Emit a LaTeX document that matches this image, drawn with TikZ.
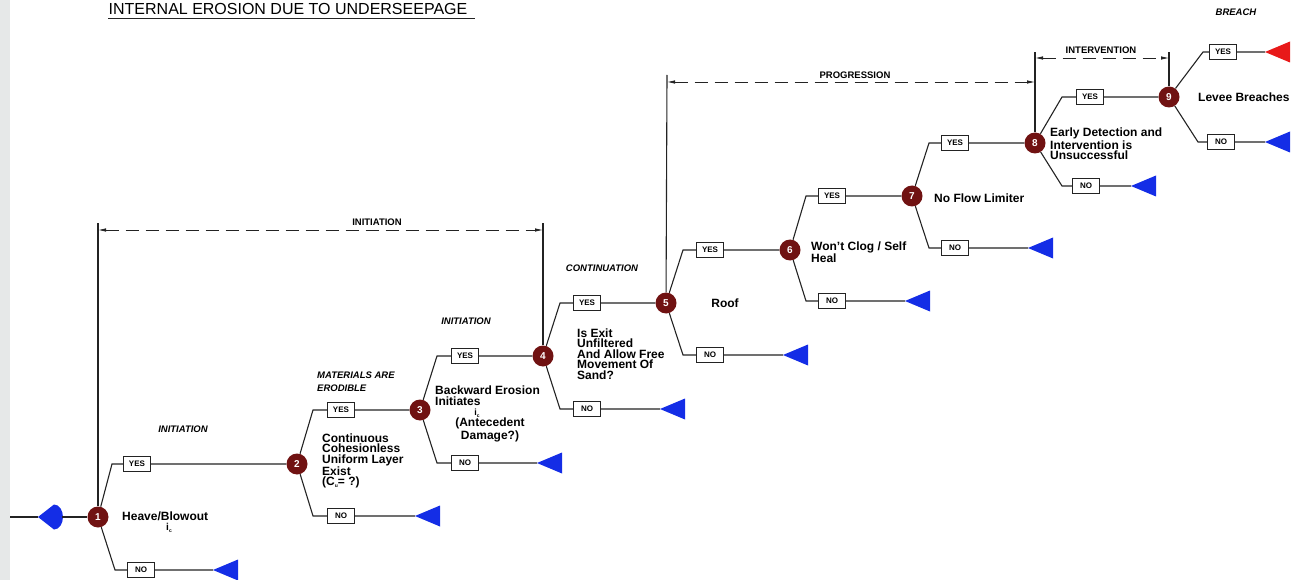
\documentclass[tikz,border=0pt]{standalone}
\usepackage{fontspec}
\setmainfont{Liberation Sans}
\usetikzlibrary{arrows.meta}
\definecolor{nodered}{RGB}{112,18,18}
\definecolor{tblue}{RGB}{20,45,230}
\definecolor{tred}{RGB}{232,25,25}
\definecolor{edgegray}{RGB}{230,232,232}
\definecolor{ink}{RGB}{35,35,35}
\begin{document}
\begin{tikzpicture}[x=1pt,y=-1pt,
 ln/.style={line width=1.1pt, draw=ink},
 dn/.style={circle, fill=nodered, text=white, font=\bfseries\fontsize{10}{10}\selectfont, inner sep=0pt, minimum size=21pt},
 ynbox/.style={draw=ink, line width=1pt, fill=white, font=\bfseries\fontsize{8}{8}\selectfont, minimum width=27pt, minimum height=15.5pt, inner sep=0pt},
 qtext/.style={anchor=west, align=left, font=\bfseries\fontsize{12}{10.5}\selectfont, inner sep=0pt},
 phase/.style={font=\bfseries\itshape\fontsize{9.5}{13}\selectfont, inner sep=0pt, align=center},
 dimlab/.style={font=\bfseries\fontsize{9.5}{10}\selectfont, inner sep=0pt},
 dimline/.style={line width=0.8pt, draw=ink, dash pattern=on 13pt off 7pt, {Latex[length=8pt,width=3.5pt]}-{Latex[length=8pt,width=3.5pt]}},
 tb/.pic={\fill[tblue] (0,0) -- (25,-10.5) -- (25,10.5) -- cycle;},
 tr/.pic={\fill[tred] (0,0) -- (25,-10.5) -- (25,10.5) -- cycle;}
]
\useasboundingbox (0,0) rectangle (1301,580);
\fill[edgegray] (0,0) rectangle (10,580);

% title
\node[font=\fontsize{16}{16}\selectfont, inner sep=0pt] (title) at (288,9) {INTERNAL EROSION DUE TO UNDERSEEPAGE};
\coordinate (ulA) at (108,19); \coordinate (ulB) at (475,19);
\draw[line width=1pt, draw=ink] (ulA) -- (ulB);

% coordinates
\coordinate (in0) at (10,517);
\coordinate (inA) at (38,517);
\coordinate (inB) at (62,517);
\coordinate (c1y) at (112,464); \coordinate (c1n) at (115,570);
\coordinate (c2y) at (313,410); \coordinate (c2n) at (313,516);
\coordinate (c3y) at (437,356); \coordinate (c3n) at (437,463);
\coordinate (c4y) at (560,303); \coordinate (c4n) at (560,409);
\coordinate (c5y) at (683,250); \coordinate (c5n) at (683,355);
\coordinate (c6y) at (806,196); \coordinate (c6n) at (806,301);
\coordinate (c7y) at (929,143); \coordinate (c7n) at (929,248);
\coordinate (c8y) at (1062,97); \coordinate (c8n) at (1062,186);
\coordinate (c9y) at (1203,52); \coordinate (c9n) at (1198,142);
\coordinate (t1) at (213,570);
\coordinate (t2) at (415,516);
\coordinate (t3) at (537,463);
\coordinate (t4) at (660,409);
\coordinate (t5) at (783,355);
\coordinate (t6) at (905,301);
\coordinate (t7) at (1028,248);
\coordinate (t8) at (1131,186);
\coordinate (t9y) at (1265,52);
\coordinate (t9n) at (1265,142);
\coordinate (e1) at (98,223);
\coordinate (e4) at (543,223);
\coordinate (e5) at (667,75);
\coordinate (e8) at (1035,52);
\coordinate (e9) at (1169,52);
\coordinate (d1a) at (98,230); \coordinate (d1b) at (543,230);
\coordinate (d2a) at (667,82); \coordinate (d2b) at (1035,82);
\coordinate (d3a) at (1035,58); \coordinate (d3b) at (1169,58);

% decision nodes
\node[dn] (n1) at (98,517) {1};
\node[dn] (n2) at (297,464) {2};
\node[dn] (n3) at (420,410) {3};
\node[dn] (n4) at (543,356) {4};
\node[dn] (n5) at (666,303) {5};
\node[dn] (n6) at (790,250) {6};
\node[dn] (n7) at (912,196) {7};
\node[dn] (n8) at (1035,143) {8};
\node[dn] (n9) at (1169,97) {9};

% yes / no boxes
\node[ynbox] (y1) at (137,464) {YES}; \node[ynbox] (no1) at (141,570) {NO};
\node[ynbox] (y2) at (341,410) {YES}; \node[ynbox] (no2) at (341,516) {NO};
\node[ynbox] (y3) at (465,356) {YES}; \node[ynbox] (no3) at (465,463) {NO};
\node[ynbox] (y4) at (587,303) {YES}; \node[ynbox] (no4) at (587,409) {NO};
\node[ynbox] (y5) at (710,250) {YES}; \node[ynbox] (no5) at (710,355) {NO};
\node[ynbox] (y6) at (832,196) {YES}; \node[ynbox] (no6) at (832,301) {NO};
\node[ynbox] (y7) at (955,143) {YES}; \node[ynbox] (no7) at (955,248) {NO};
\node[ynbox] (y8) at (1090,97) {YES}; \node[ynbox] (no8) at (1086,186) {NO};
\node[ynbox] (y9) at (1223,52) {YES}; \node[ynbox] (no9) at (1221,142) {NO};

% input
\draw[ln] (in0) -- (inA);
\fill[tblue] (inA) -- (54,504.5) arc[start angle=-90, end angle=90, x radius=9, y radius=12.5] -- cycle;
\draw[ln] (inB) -- (n1);

% connectors
\draw[ln] (n1) -- (c1y) -- (y1) -- (n2);
\draw[ln] (n1) -- (c1n) -- (no1) -- (t1);
\draw[ln] (n2) -- (c2y) -- (y2) -- (n3);
\draw[ln] (n2) -- (c2n) -- (no2) -- (t2);
\draw[ln] (n3) -- (c3y) -- (y3) -- (n4);
\draw[ln] (n3) -- (c3n) -- (no3) -- (t3);
\draw[ln] (n4) -- (c4y) -- (y4) -- (n5);
\draw[ln] (n4) -- (c4n) -- (no4) -- (t4);
\draw[ln] (n5) -- (c5y) -- (y5) -- (n6);
\draw[ln] (n5) -- (c5n) -- (no5) -- (t5);
\draw[ln] (n6) -- (c6y) -- (y6) -- (n7);
\draw[ln] (n6) -- (c6n) -- (no6) -- (t6);
\draw[ln] (n7) -- (c7y) -- (y7) -- (n8);
\draw[ln] (n7) -- (c7n) -- (no7) -- (t7);
\draw[ln] (n8) -- (c8y) -- (y8) -- (n9);
\draw[ln] (n8) -- (c8n) -- (no8) -- (t8);
\draw[ln] (n9) -- (c9y) -- (y9) -- (t9y);
\draw[ln] (n9) -- (c9n) -- (no9) -- (t9n);

% terminals
\pic at (t1) {tb};
\pic at (t2) {tb};
\pic at (t3) {tb};
\pic at (t4) {tb};
\pic at (t5) {tb};
\pic at (t6) {tb};
\pic at (t7) {tb};
\pic at (t8) {tb};
\pic at (t9y) {tr};
\pic at (t9n) {tb};

% extension lines
\draw[ln] (n1) -- (e1);
\draw[ln] (n4) -- (e4);
\draw[ln] (n5) -- (e5);
\draw[ln] (n8) -- (e8);
\draw[ln] (n9) -- (e9);

% dimension lines
\draw[dimline] (d1a) -- (d1b);
\draw[dimline] (d2a) -- (d2b);
\draw[dimline] (d3a) -- (d3b);
\node[dimlab] (L1) at (377,222) {INITIATION};
\node[dimlab] (L2) at (855,75) {PROGRESSION};
\node[dimlab, fill=white, inner sep=1pt] (L3) at (1101,50) {INTERVENTION};

% phase labels
\node[phase] (p1) at (183,429) {INITIATION};
\node[phase, anchor=west, align=left] (p2) at (317,381.5) {MATERIALS ARE\\ERODIBLE};
\node[phase] (p3) at (466,321) {INITIATION};
\node[phase] (p4) at (602,268) {CONTINUATION};
\node[phase] (p5) at (1236,12) {BREACH};

% question texts
\node[qtext] (q1) at (122,516) {Heave/Blowout};
\node[inner sep=0pt, font=\bfseries\fontsize{10}{10}\selectfont] (q1s) at (169,528) {i\raisebox{-2pt}{\fontsize{5}{5}\selectfont c}};
\node[qtext] (q2) at (322,461) {Continuous\\Cohesionless\\Uniform Layer\\Exist\\(C\raisebox{-2pt}{\fontsize{5}{5}\selectfont u}= ?)};
\node[qtext] (q3) at (435,395.5) {Backward Erosion\\Initiates};
\node[inner sep=0pt, font=\bfseries\fontsize{9}{9}\selectfont] (q3s) at (477,413) {i\raisebox{-2pt}{\fontsize{5}{5}\selectfont c}};
\node[qtext, anchor=center, align=center] (q3b) at (490,430) {(Antecedent\\Damage?)};
\node[qtext] (q4) at (577,354) {Is Exit\\Unfiltered\\And Allow Free\\Movement Of\\Sand?};
\node[qtext, anchor=center] (q5) at (725,303) {Roof};
\node[qtext] (q6) at (811,252) {Won't Clog / Self\\Heal};
\node[qtext] (q7) at (934,198) {No Flow Limiter};
\node[qtext] (q8) at (1050,144) {Early Detection and\\Intervention is\\Unsuccessful};
\node[qtext] (q9) at (1198,97) {Levee Breaches};
\end{tikzpicture}
\end{document}
